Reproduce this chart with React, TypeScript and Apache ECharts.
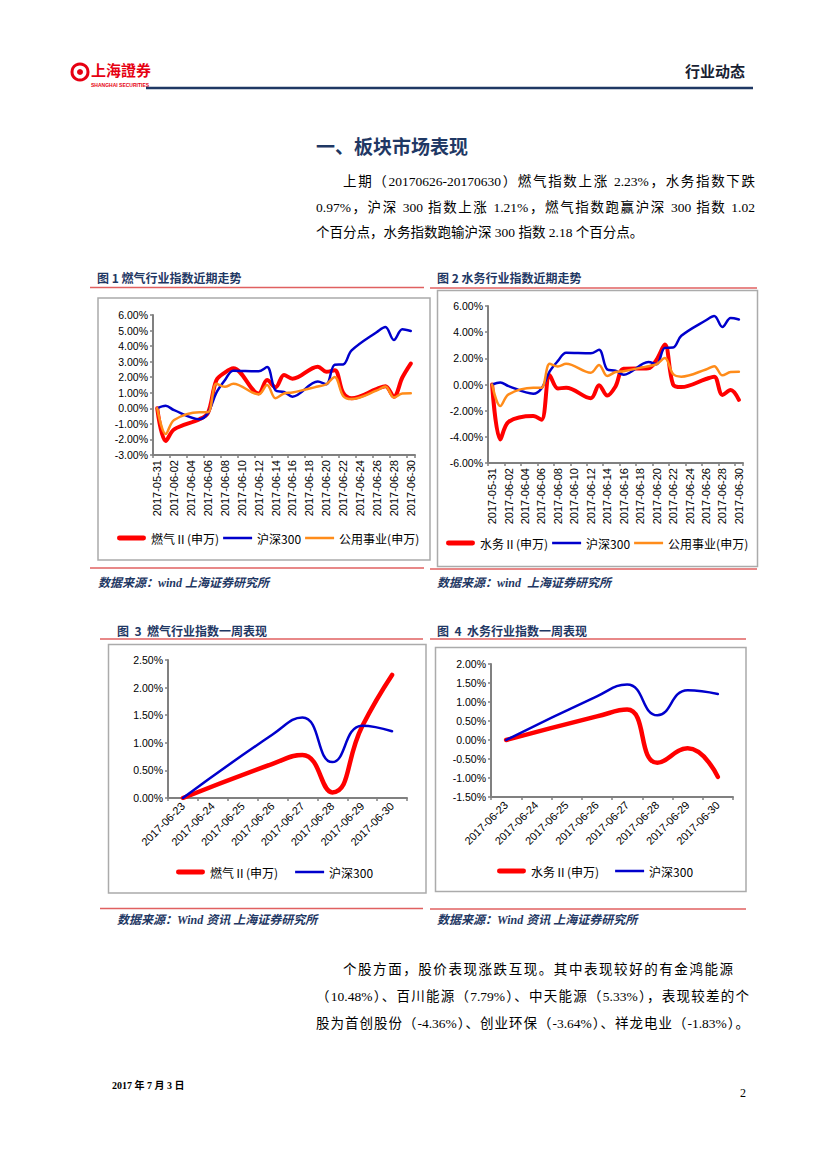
import React, { useEffect, useRef } from 'react';
import * as echarts from 'echarts';

// ---------- data ----------
const monthDates = [
  '2017-05-31', '2017-06-01', '2017-06-02', '2017-06-03', '2017-06-04', '2017-06-05', '2017-06-06',
  '2017-06-07', '2017-06-08', '2017-06-09', '2017-06-10', '2017-06-11', '2017-06-12', '2017-06-13',
  '2017-06-14', '2017-06-15', '2017-06-16', '2017-06-17', '2017-06-18', '2017-06-19', '2017-06-20',
  '2017-06-21', '2017-06-22', '2017-06-23', '2017-06-24', '2017-06-25', '2017-06-26', '2017-06-27',
  '2017-06-28', '2017-06-29', '2017-06-30',
];
// null = non-trading day
const gasMonth = [0, -2.1, -1.35, null, null, -0.7, -0.3, 1.8, 2.3, 2.58, null, null, 0.96, 1.82, 1.35, 2.15, 1.9, null, null, 2.68, 2.35, 2.45, 1.0, 0.65, null, null, 1.25, 1.42, 0.75, 1.98, 2.88];
const hs300Month = [0, 0.16, -0.12, null, null, -0.7, -0.3, 1.0, 1.8, 2.42, null, null, 2.38, 2.65, 1.15, 1.05, 0.75, null, null, 1.72, 1.55, 2.8, 2.82, 3.72, null, null, 4.91, 5.23, 4.39, 5.08, 4.97];
const utilMonth = [0, -1.65, -0.75, null, null, -0.25, -0.25, 1.58, 1.38, 1.58, null, null, 0.9, 1.5, 0.65, 0.95, 1.02, null, null, 1.4, 1.55, 2.02, 0.8, 0.6, null, null, 1.15, 1.4, 0.7, 0.95, 0.97];
const waterMonth = [0, -4.2, -2.85, null, null, -2.4, -2.7, 0.7, -0.3, -0.25, null, null, -1.05, -0.05, -0.85, -0.15, 1.2, null, null, 1.25, 1.9, 3.05, 0.0, -0.2, null, null, 0.42, 0.6, -0.8, -0.42, -1.17];

const weekDates = ['2017-06-23', '2017-06-24', '2017-06-25', '2017-06-26', '2017-06-27', '2017-06-28', '2017-06-29', '2017-06-30'];
const gasWeek = [0, null, null, 0.62, 0.78, 0.1, 1.3, 2.23];
const hs300Week = [0, null, null, 1.15, 1.46, 0.65, 1.31, 1.21];
const waterWeek = [0, null, null, 0.62, 0.8, -0.6, -0.22, -0.97];

const GAS = '燃气Ⅱ(申万)';
const WATER = '水务Ⅱ(申万)';
const HS300 = '沪深300';
const UTIL = '公用事业(申万)';

// ---------- styles ----------
const RED = '#FF0000';
const BLUE = '#0000CC';
const ORANGE = '#FF8C1A';
const NAVY = '#1F3864';
const AXIS = '#808080';
const FRAME = '#ABABAB';
const RULE = '#E06060';
const LATIN = "'Liberation Sans', Arial, 'Noto Sans CJK SC', sans-serif";
const CJK = "'Noto Sans CJK SC', sans-serif";
const SERIF = "'Liberation Serif', 'Noto Sans CJK SC', serif";

const thickIcon = 'path://M2.5,0H27.5A2.5,2.5,0,0,1,27.5,5H2.5A2.5,2.5,0,0,1,2.5,0Z';
const thinIcon = 'path://M0,0H30V2.6H0Z';

const pct = (v: number) => v.toFixed(2) + '%';

function yAxis(gridIndex: number, min: number, max: number, interval: number) {
  return {
    type: 'value', gridIndex, min, max, interval,
    axisLine: { show: true, lineStyle: { color: AXIS, width: 2 } },
    axisTick: { show: true, length: 3, lineStyle: { color: AXIS, width: 1.5 } },
    splitLine: { show: false },
    axisLabel: { formatter: pct, fontSize: 10.5, color: '#000', margin: 5, fontFamily: LATIN },
  };
}

function xAxis(gridIndex: number, data: string[], rotate: number, interval: number, margin: number) {
  return {
    type: 'category', gridIndex, data, boundaryGap: true,
    axisLine: { onZero: false, lineStyle: { color: AXIS, width: 2 } },
    axisTick: { show: true, interval, length: 3, lineStyle: { color: AXIS, width: 1.5 } },
    axisLabel: { rotate, interval, fontSize: 11, color: '#000', margin, fontFamily: LATIN },
  };
}

function line(name: string, data: (number | null)[], idx: number, color: string, width: number, smooth: number) {
  return {
    type: 'line', name, data, xAxisIndex: idx, yAxisIndex: idx,
    smooth, symbol: 'none', connectNulls: true,
    lineStyle: { color, width, cap: 'round', join: 'round' },
    itemStyle: { color },
  };
}

function legend(left: number, cy: number, items: { name: string; icon: string }[], gap: number) {
  return {
    left, top: cy - 7, orient: 'horizontal', padding: 0,
    itemWidth: 29, itemHeight: 14, itemGap: gap,
    data: items,
    itemStyle: { borderWidth: 0 },
    textStyle: { fontSize: 12, color: '#000', fontFamily: CJK },
  };
}

function text(x: number, y: number, t: string, o: any = {}) {
  return {
    type: 'text', x, y,
    style: {
      text: t, fill: o.fill || '#000', fontSize: o.fontSize || 12, fontWeight: o.fontWeight || 'normal',
      fontStyle: o.fontStyle || 'normal', fontFamily: o.fontFamily || CJK,
      align: o.align || 'left', verticalAlign: 'middle',
    },
  };
}

function hline(x1: number, x2: number, y: number, stroke: string, lineWidth: number) {
  return { type: 'line', shape: { x1, y1: y, x2, y2: y }, style: { stroke, lineWidth } };
}

function frame(x1: number, y1: number, x2: number, y2: number) {
  return { type: 'rect', shape: { x: x1, y: y1, width: x2 - x1, height: y2 - y1 }, style: { fill: 'none', stroke: FRAME, lineWidth: 1.5 } };
}

const caption = (x: number, y: number, t: string) => text(x, y, t, { fill: NAVY, fontSize: 12, fontWeight: 'bold' });
const source = (x: number, y: number, t: string) => text(x, y, t, { fill: NAVY, fontSize: 12, fontWeight: 'bold', fontStyle: 'italic', fontFamily: SERIF });

const graphics = [
  // header
  { type: 'circle', shape: { cx: 80, cy: 72, r: 8 }, style: { fill: '#fff', stroke: '#E60012', lineWidth: 3 } },
  { type: 'circle', shape: { cx: 80, cy: 72, r: 3 }, style: { fill: '#E60012' } },
  text(91, 69, '上海證券', { fill: '#E60012', fontSize: 15, fontWeight: 'bold', fontFamily: "'Noto Sans CJK TC', sans-serif" }),
  text(91, 85, 'SHANGHAI SECURITIES', { fill: '#E60012', fontSize: 5, fontWeight: 'bold', fontFamily: LATIN }),
  text(745, 70, '行业动态', { fill: '#1A1F33', fontSize: 15, fontWeight: 'bold', align: 'right' }),
  hline(146, 753, 88, NAVY, 2.5),
  // section title
  text(316, 145, '一、板块市场表现', { fill: NAVY, fontSize: 19, fontWeight: 'bold' }),

  // chart 1 & 2 captions and rules
  caption(97, 277, '图 1 燃气行业指数近期走势'),
  caption(437, 277, '图 2 水务行业指数近期走势'),
  hline(90, 424, 287.5, RULE, 1.5),
  hline(430, 757, 288, RULE, 1.5),
  frame(98, 298, 430, 560),
  frame(437.5, 290.5, 757.5, 566.5),
  hline(90, 424, 568, RULE, 1.5),
  hline(430, 757, 569, RULE, 1.5),
  source(98, 583, '数据来源：wind 上海证券研究所'),
  source(437, 583, '数据来源：wind  上海证券研究所'),

  // chart 3 & 4 captions and rules
  caption(117, 630, '图  3  燃气行业指数一周表现'),
  caption(437, 630, '图  4  水务行业指数一周表现'),
  hline(100, 423, 639, RULE, 1.5),
  hline(430, 746, 639, RULE, 1.5),
  frame(108.5, 644.5, 426, 893),
  frame(435.5, 647.5, 746, 891.5),
  hline(100, 423, 908.5, RULE, 1.5),
  hline(430, 746, 909, RULE, 1.5),
  source(117, 920, '数据来源：Wind 资讯 上海证券研究所'),
  source(437, 920, '数据来源：Wind 资讯 上海证券研究所'),

  // footer
  text(112, 1085, '2017 年 7 月 3 日', { fontSize: 10, fontWeight: 'bold', fontFamily: SERIF }),
  text(746, 1093, '2', { fontSize: 12, fontFamily: SERIF, align: 'right' }),
];

const option = {
  animation: false,
  backgroundColor: '#fff',
  grid: [
    { left: 153, top: 315, width: 262, height: 140 },
    { left: 488, top: 306, width: 255, height: 157 },
    { left: 168, top: 660, width: 239, height: 138 },
    { left: 491, top: 664, width: 242, height: 133 },
  ],
  xAxis: [
    xAxis(0, monthDates, 90, 1, 5),
    xAxis(1, monthDates, 90, 1, 5),
    xAxis(2, weekDates, 45, 0, 6),
    xAxis(3, weekDates, 45, 0, 6),
  ],
  yAxis: [
    yAxis(0, -3, 6, 1),
    yAxis(1, -6, 6, 2),
    yAxis(2, 0, 2.5, 0.5),
    yAxis(3, -1.5, 2, 0.5),
  ],
  legend: [
    legend(117, 539, [{ name: GAS, icon: thickIcon }, { name: HS300, icon: thinIcon }, { name: UTIL, icon: thinIcon }], 4),
    legend(446, 544, [{ name: WATER, icon: thickIcon }, { name: HS300, icon: thinIcon }, { name: UTIL, icon: thinIcon }], 4),
    legend(176, 873, [{ name: GAS, icon: thickIcon }, { name: HS300, icon: thinIcon }], 17),
    legend(497, 872, [{ name: WATER, icon: thickIcon }, { name: HS300, icon: thinIcon }], 16),
  ],
  series: [
    line(GAS, gasMonth, 0, RED, 4, 0.35),
    line(HS300, hs300Month, 0, BLUE, 2.5, 0.35),
    line(UTIL, utilMonth, 0, ORANGE, 2.5, 0.35),
    line(WATER, waterMonth, 1, RED, 4, 0.35),
    line(HS300, hs300Month, 1, BLUE, 2.5, 0.35),
    line(UTIL, utilMonth, 1, ORANGE, 2.5, 0.35),
    line(GAS, gasWeek, 2, RED, 4.5, 0.5),
    line(HS300, hs300Week, 2, BLUE, 2.5, 0.5),
    line(WATER, waterWeek, 3, RED, 4.5, 0.5),
    line(HS300, hs300Week, 3, BLUE, 2.5, 0.5),
  ],
  graphic: { elements: graphics },
};

const paragraphLines = [
  { t: '上期（20170626-20170630）燃气指数上涨 2.23%，水务指数下跌', left: 343, width: 412, cy: 182, justify: true },
  { t: '0.97%，沪深 300 指数上涨 1.21%，燃气指数跑赢沪深 300 指数 1.02', left: 316, width: 439, cy: 207.5, justify: true },
  { t: '个百分点，水务指数跑输沪深 300 指数 2.18 个百分点。', left: 316, width: 439, cy: 233, justify: false },
  { t: '个股方面，股价表现涨跌互现。其中表现较好的有金鸿能源', left: 343, width: 390, cy: 970, justify: true },
  { t: '（10.48%）、百川能源（7.79%）、中天能源（5.33%），表现较差的个', left: 316, width: 433, cy: 997, justify: true },
  { t: '股为首创股份（-4.36%）、创业环保（-3.64%）、祥龙电业（-1.83%）。', left: 316, width: 433, cy: 1024, justify: true },
];

export default function App() {
  const ref = useRef<HTMLDivElement>(null);
  useEffect(() => {
    const chart = echarts.init(ref.current as HTMLDivElement, null, { renderer: 'svg' });
    chart.setOption(option as any);
    return () => chart.dispose();
  }, []);
  return (
    <div style={{ position: 'absolute', left: 0, top: 0, width: 827, height: 1169, background: '#fff', overflow: 'hidden' }}>
      <div ref={ref} style={{ position: 'absolute', left: 0, top: 0, width: 827, height: 1169 }} />
      {paragraphLines.map((l, i) => (
        <div
          key={i}
          style={{
            position: 'absolute', left: l.left, top: l.cy - 10, width: l.width, height: 20, lineHeight: '20px',
            fontSize: 13.5, fontFamily: SERIF, color: '#000', whiteSpace: 'nowrap',
            textAlign: l.justify ? 'justify' : 'left', textAlignLast: l.justify ? 'justify' : 'left',
          }}
        >
          {l.t}
        </div>
      ))}
    </div>
  );
}
